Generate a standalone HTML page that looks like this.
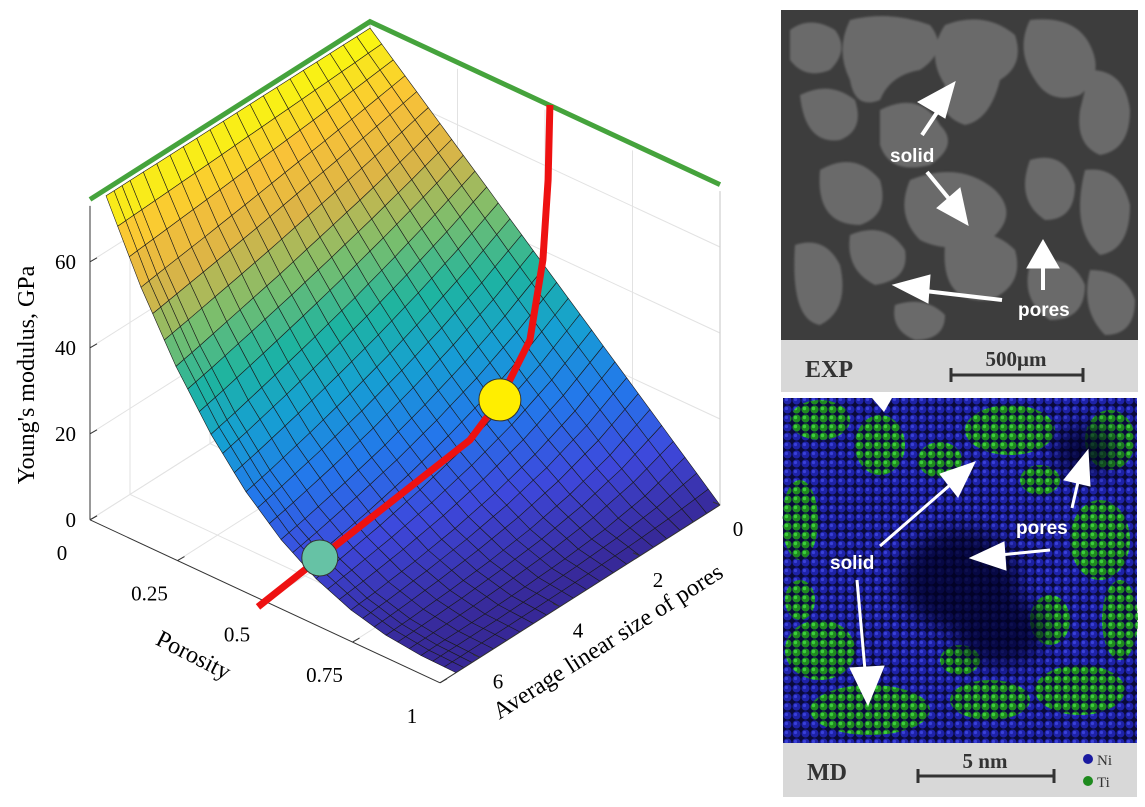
<!DOCTYPE html>
<html><head><meta charset="utf-8">
<style>
html,body{margin:0;padding:0;background:#fff;}
body{width:1145px;height:807px;overflow:hidden;position:relative;font-family:"Liberation Serif",serif;}
svg{position:absolute;left:0;top:0;}
</style></head>
<body>
<svg id="chart" width="760" height="807" viewBox="0 0 760 807" xmlns="http://www.w3.org/2000/svg">
  <g id="walls"></g>
  <g id="surf"></g>
  <g id="axes"></g>
  <g id="overlay"></g>
  <text x="0" y="0" transform="translate(34,375) rotate(-90)" text-anchor="middle" font-size="24" font-family="Liberation Serif, serif">Young's modulus, GPa</text>
  <text x="0" y="0" transform="translate(190,662) rotate(27)" text-anchor="middle" font-size="24" font-family="Liberation Serif, serif">Porosity</text>
  <text x="0" y="0" transform="translate(612,648) rotate(-32.5)" text-anchor="middle" font-size="24" font-family="Liberation Serif, serif">Average linear size of pores</text>
</svg>

<svg width="1145" height="807" viewBox="0 0 1145 807" xmlns="http://www.w3.org/2000/svg" style="pointer-events:none">
  <defs>
    <pattern id="ni" width="9" height="9" patternUnits="userSpaceOnUse">
      <rect width="9" height="9" fill="#0a0a3a"/>
      <circle cx="4.5" cy="4.5" r="4" fill="#1e22a8"/>
      <circle cx="3.5" cy="3.5" r="1.6" fill="#3a40d8"/>
    </pattern>
    <pattern id="ti" width="9" height="9" patternUnits="userSpaceOnUse">
      <circle cx="4.5" cy="4.5" r="4" fill="#1f8a1f"/>
      <circle cx="3.5" cy="3.5" r="1.7" fill="#3ccf3c"/>
    </pattern>
    <filter id="blur1"><feGaussianBlur stdDeviation="1"/></filter>
    <filter id="blur8"><feGaussianBlur stdDeviation="10"/></filter>
  </defs>
  <g>
    <rect x="781" y="10" width="357" height="330" fill="#3d3d3d"/>
    <g fill="#6a6a6a" filter="url(#blur1)">
      <path d="M790,30 q20,-15 45,0 q15,20 -5,40 q-25,10 -40,-10z"/>
      <path d="M850,20 q40,-10 80,5 q20,25 -10,45 q-30,5 -40,30 q-25,10 -30,-20 q-15,-30 0,-60z"/>
      <path d="M945,25 q40,-15 70,10 q10,30 -15,45 q-10,40 -35,45 q-30,-10 -20,-40 q-20,-30 0,-60z"/>
      <path d="M1030,20 q45,-5 60,25 q15,30 -10,50 q-30,10 -45,-15 q-20,-30 -5,-60z"/>
      <path d="M1090,70 q35,0 40,40 q0,40 -30,45 q-25,-10 -20,-45z"/>
      <path d="M800,95 q30,-15 55,5 q10,30 -15,40 q-35,5 -40,-45z"/>
      <path d="M880,110 q40,-20 60,15 q20,20 -10,40 q-40,10 -50,-20z"/>
      <path d="M820,170 q35,-20 60,10 q10,35 -20,45 q-45,0 -40,-55z"/>
      <path d="M910,180 q50,-20 85,10 q25,25 -5,50 q-40,15 -70,0 q-25,-25 -10,-60z"/>
      <path d="M1030,160 q35,-10 45,25 q0,35 -30,35 q-30,-20 -15,-60z"/>
      <path d="M1085,170 q35,-5 45,35 q0,45 -30,50 q-30,-25 -15,-85z"/>
      <path d="M795,245 q30,-10 45,20 q10,45 -20,60 q-30,-5 -25,-80z"/>
      <path d="M850,235 q35,-15 55,15 q5,30 -30,35 q-30,-15 -25,-50z"/>
      <path d="M945,245 q40,-25 70,5 q10,35 -25,50 q-50,5 -45,-55z"/>
      <path d="M1030,265 q40,-15 55,20 q0,35 -35,35 q-30,-20 -20,-55z"/>
      <path d="M1090,270 q35,0 45,30 q0,35 -30,35 q-25,-25 -15,-65z"/>
      <path d="M895,305 q30,-10 50,10 q0,25 -30,25 q-25,-10 -20,-35z"/>
    </g>
    <g fill="#fff" stroke="#fff">
      <line x1="922" y1="135" x2="940" y2="108" stroke-width="4"/><polygon points="955,82 918,102 945,118"/>
      <line x1="927" y1="172" x2="950" y2="200" stroke-width="4"/><polygon points="968,225 937,208 960,188"/>
      <line x1="1002" y1="300" x2="925" y2="291" stroke-width="4"/><polygon points="893,285 930,275 928,303"/>
      <line x1="1043" y1="290" x2="1043" y2="265" stroke-width="4"/><polygon points="1043,240 1027,268 1059,268"/>
    </g>
    <text x="890" y="162" fill="#fff" font-family="Liberation Sans, sans-serif" font-weight="bold" font-size="19">solid</text>
    <text x="1018" y="316" fill="#fff" font-family="Liberation Sans, sans-serif" font-weight="bold" font-size="19">pores</text>
    <rect x="781" y="340" width="357" height="52" fill="#d8d8d8"/>
    <text x="805" y="377" font-weight="bold" font-size="24" fill="#333">EXP</text>
    <text x="1016" y="366" text-anchor="middle" font-weight="bold" font-size="21" fill="#333">500μm</text>
    <g stroke="#333" stroke-width="3"><line x1="951" y1="375" x2="1083" y2="375"/><line x1="951" y1="368" x2="951" y2="382"/><line x1="1083" y1="368" x2="1083" y2="382"/></g>
  </g>
  <g>
    <rect x="783" y="398" width="354" height="345" fill="url(#ni)"/>
    <g fill="url(#ti)">
      <ellipse cx="820" cy="420" rx="30" ry="20"/><ellipse cx="880" cy="445" rx="25" ry="30"/>
      <ellipse cx="1010" cy="430" rx="45" ry="25"/><ellipse cx="1110" cy="440" rx="25" ry="30"/>
      <ellipse cx="800" cy="520" rx="18" ry="40"/><ellipse cx="1100" cy="540" rx="30" ry="40"/>
      <ellipse cx="1120" cy="620" rx="18" ry="40"/><ellipse cx="820" cy="650" rx="35" ry="30"/>
      <ellipse cx="870" cy="710" rx="60" ry="25"/><ellipse cx="990" cy="700" rx="40" ry="20"/>
      <ellipse cx="1080" cy="690" rx="45" ry="25"/><ellipse cx="940" cy="460" rx="22" ry="18"/>
      <ellipse cx="1050" cy="620" rx="20" ry="25"/><ellipse cx="800" cy="600" rx="15" ry="20"/>
      <ellipse cx="1040" cy="480" rx="20" ry="15"/><ellipse cx="960" cy="660" rx="20" ry="15"/>
    </g>
    <g fill="#050520" opacity="0.75" filter="url(#blur8)">
      <ellipse cx="960" cy="580" rx="60" ry="50"/><ellipse cx="1000" cy="630" rx="45" ry="35"/>
      <ellipse cx="1085" cy="450" rx="30" ry="25"/>
    </g>
    <polygon points="872,398 892,398 884,412" fill="#fff"/>
    <g fill="#fff" stroke="#fff">
      <line x1="880" y1="546" x2="950" y2="485" stroke-width="3"/><polygon points="975,462 940,474 958,497"/>
      <line x1="857" y1="580" x2="865" y2="670" stroke-width="3"/><polygon points="868,705 850,668 884,666"/>
      <line x1="1072" y1="508" x2="1078" y2="482" stroke-width="3"/><polygon points="1088,450 1064,480 1090,486"/>
      <line x1="1050" y1="550" x2="1000" y2="555" stroke-width="3"/><polygon points="970,558 1004,542 1006,570"/>
    </g>
    <text x="830" y="569" fill="#fff" font-family="Liberation Sans, sans-serif" font-weight="bold" font-size="19">solid</text>
    <text x="1016" y="534" fill="#fff" font-family="Liberation Sans, sans-serif" font-weight="bold" font-size="19">pores</text>
    <rect x="783" y="743" width="354" height="54" fill="#d8d8d8"/>
    <text x="807" y="780" font-weight="bold" font-size="24" fill="#333">MD</text>
    <text x="985" y="768" text-anchor="middle" font-weight="bold" font-size="21" fill="#333">5 nm</text>
    <g stroke="#333" stroke-width="3"><line x1="918" y1="776" x2="1054" y2="776"/><line x1="918" y1="769" x2="918" y2="783"/><line x1="1054" y1="769" x2="1054" y2="783"/></g>
    <circle cx="1088" cy="759" r="5" fill="#1a1aa0"/>
    <text x="1097" y="765" font-size="15" fill="#333">Ni</text>
    <circle cx="1088" cy="781" r="5" fill="#1e8a1e"/>
    <text x="1097" y="787" font-size="15" fill="#333">Ti</text>
  </g>
</svg>

<script>
// ---- data ----
const porosity = [0,0.1,0.2,0.3,0.4,0.5,0.6,0.7,0.8,0.9,1];
const poreSize = [0,1,2,3,4,5,6,6.6];
// Young's modulus (GPa) rows = porosity, cols = pore size
const modulus = [
 [73,73,73,73,73,73,73,73],
 [65.7,64.0,62.4,60.9,59.3,57.8,56.4,55.5],
 [58.4,55.3,52.4,49.7,47.0,44.6,42.2,40.9],
 [51.1,46.9,43.0,39.4,36.2,33.2,30.4,28.9],
 [43.8,38.7,34.2,30.2,26.7,23.6,20.8,19.3],
 [36.5,30.9,26.1,22.1,18.6,15.8,13.3,12.0],
 [29.2,23.4,18.7,15.0,12.0,9.6,7.7,6.7],
 [21.9,16.4,12.2,9.1,6.8,5.1,3.8,3.2],
 [14.6,9.9,6.7,4.5,3.1,2.1,1.4,1.1],
 [7.3,4.2,2.4,1.4,0.8,0.4,0.3,0.2],
 [0,0,0,0,0,0,0,0]
];
const pathP = [0.503,0.612,0.614,0.620,0.610,0.571,0.494,0.509,0.514];
const pathS = [7.2,6.61,4.62,2.93,2.09,1.0,0,0,0];
const pathZ = [0,12,15,18,22,28,37.8,57,74.6];
const markerIdx = [1,4];
const markerColors = ['#66c2a5','#ffee00'];
const zTicks = [0,20,40,60];
const pTicks = [0,0.25,0.5,0.75,1];
const pTickLabels = ['0','0.25','0.5','0.75','1'];
const sTicks = [0,2,4,6];
const zMax = 73, sMax = 7;

// ---- projection ----
function PX(p,s,z){return 370+350*p-40*s;}
function PY(p,s,z){return 342+163*p+25.4*s-4.3*z;}
const NS='http://www.w3.org/2000/svg';
function mk(tag,attrs,parent){const e=document.createElementNS(NS,tag);for(const k in attrs)e.setAttribute(k,attrs[k]);parent.appendChild(e);return e;}
const parula=[[0,[55,40,150]],[0.12,[62,72,220]],[0.25,[35,120,235]],[0.38,[22,160,210]],[0.5,[30,180,160]],[0.62,[120,190,110]],[0.75,[220,180,70]],[0.87,[250,195,55]],[1,[249,251,14]]];
function cmap(t){t=Math.max(0,Math.min(1,t));for(let i=1;i<parula.length;i++){if(t<=parula[i][0]){const a=parula[i-1],b=parula[i];const f=(t-a[0])/(b[0]-a[0]);return 'rgb('+a[1].map((v,j)=>Math.round(v+(b[1][j]-v)*f)).join(',')+')';}}return 'rgb(249,251,14)';}

const walls=document.getElementById('walls');
for(const z of zTicks){
  let l=mk('line',{x1:PX(0,sMax,z),y1:PY(0,sMax,z),x2:PX(0,0,z),y2:PY(0,0,z),stroke:'#e2e2e2','stroke-width':1},walls);
  
  
  l=mk('line',{x1:PX(0,0,z),y1:PY(0,0,z),x2:PX(1,0,z),y2:PY(1,0,z),stroke:'#e2e2e2','stroke-width':1},walls);
  
  
}
for(const p of pTicks){
  const l=mk('line',{x1:PX(p,0,0),y1:PY(p,0,0),x2:PX(p,0,zMax),y2:PY(p,0,zMax),stroke:'#e2e2e2','stroke-width':1},walls);
  
  
  const f=mk('line',{x1:PX(p,0,0),y1:PY(p,0,0),x2:PX(p,sMax,0),y2:PY(p,sMax,0),stroke:'#e2e2e2','stroke-width':1},walls);
  
  
}
for(const s of sTicks){
  const l=mk('line',{x1:PX(0,s,0),y1:PY(0,s,0),x2:PX(0,s,zMax),y2:PY(0,s,zMax),stroke:'#e2e2e2','stroke-width':1},walls);
  
  
  const f=mk('line',{x1:PX(0,s,0),y1:PY(0,s,0),x2:PX(1,s,0),y2:PY(1,s,0),stroke:'#e2e2e2','stroke-width':1},walls);
  
  
}
let bl=mk('line',{x1:PX(0,0,0),y1:PY(0,0,0),x2:PX(0,0,zMax+2),y2:PY(0,0,zMax+2),stroke:'#cfcfcf','stroke-width':1.2},walls);


bl=mk('line',{x1:PX(1,0,0),y1:PY(1,0,0),x2:PX(1,0,zMax),y2:PY(1,0,zMax),stroke:'#cfcfcf','stroke-width':1.2},walls);



// surface: each data cell rendered as SUB x SUB facets (bilinear within the cell)
const surf=document.getElementById('surf');
const SUB=3;
const facets=[];
for(let i=0;i<porosity.length-1;i++)for(let j=0;j<poreSize.length-1;j++)for(let a=0;a<SUB;a++)for(let b=0;b<SUB;b++)facets.push([i,j,a,b]);
const nP=porosity.length-1,nS=poreSize.length-1;
facets.sort((A,B)=>((A[0]+A[2]/SUB)/nP+(A[1]+A[3]/SUB)/nS)-((B[0]+B[2]/SUB)/nP+(B[1]+B[3]/SUB)/nS));
function val(i,j,u,v){
  const p=porosity[i]+(porosity[i+1]-porosity[i])*u;
  const s=poreSize[j]+(poreSize[j+1]-poreSize[j])*v;
  const z=modulus[i][j]*(1-u)*(1-v)+modulus[i+1][j]*u*(1-v)+modulus[i+1][j+1]*u*v+modulus[i][j+1]*(1-u)*v;
  return [p,s,z];
}
for(const [i,j,a,b] of facets){
  const corners=[[a,b],[a+1,b],[a+1,b+1],[a,b+1]].map(([u,v])=>val(i,j,u/SUB,v/SUB));
  const pts=corners.map(([p,s,z])=>PX(p,s,z).toFixed(1)+','+PY(p,s,z).toFixed(1)).join(' ');
  const zavg=corners.reduce((t,c)=>t+c[2],0)/4;
  const poly=mk('polygon',{points:pts,fill:cmap(zavg/zMax),stroke:'#1a1a1a','stroke-width':0.6,'stroke-linejoin':'round'},surf);
  
  
}

// axes
const axes=document.getElementById('axes');
let a=mk('line',{x1:PX(0,sMax,0),y1:PY(0,sMax,0),x2:PX(0,sMax,zMax),y2:PY(0,sMax,zMax),stroke:'#333','stroke-width':1},axes);


a=mk('line',{x1:PX(0,sMax,0),y1:PY(0,sMax,0),x2:PX(1,sMax,0),y2:PY(1,sMax,0),stroke:'#333','stroke-width':1},axes);


a=mk('line',{x1:PX(1,sMax,0),y1:PY(1,sMax,0),x2:PX(1,0,0),y2:PY(1,0,0),stroke:'#333','stroke-width':1},axes);


for(const z of zTicks){
  const x=PX(0,sMax,z),y=PY(0,sMax,z);
  const t=mk('line',{x1:x,y1:y,x2:x+7,y2:y-4,stroke:'#333'},axes);
  
  
  const tx=mk('text',{x:x-14,y:y+7,'text-anchor':'end','font-size':21},axes);
  
  
  tx.textContent=z;
}
pTicks.forEach((p,k)=>{
  const x=PX(p,sMax,0),y=PY(p,sMax,0);
  const t=mk('line',{x1:x,y1:y,x2:x+7,y2:y-4,stroke:'#333'},axes);
  
  
  const tx=mk('text',{x:x-28,y:y+40,'text-anchor':'middle','font-size':21},axes);
  
  
  tx.textContent=pTickLabels[k];
});
for(const s of sTicks){
  const x=PX(1,s,0),y=PY(1,s,0);
  const t=mk('line',{x1:x,y1:y,x2:x-7,y2:y-3,stroke:'#333'},axes);
  
  
  const tx=mk('text',{x:x+18,y:y+31,'text-anchor':'middle','font-size':21},axes);
  
  
  tx.textContent=s;
}

// overlay
const ov=document.getElementById('overlay');
const g=mk('polyline',{points:[[0,sMax],[0,0],[1,0]].map(([p,s])=>PX(p,s,zMax+1.5)+','+PY(p,s,zMax+1.5)).join(' '),fill:'none',stroke:'#45a33c','stroke-width':5,'stroke-linejoin':'miter'},ov);


const rp=pathP.map((p,k)=>PX(p,pathS[k],pathZ[k]).toFixed(1)+','+PY(p,pathS[k],pathZ[k]).toFixed(1)).join(' ');
const red=mk('polyline',{points:rp,fill:'none',stroke:'#ee1111','stroke-width':7,'stroke-linejoin':'round'},ov);


markerIdx.forEach((k,m)=>{
  const c=mk('circle',{cx:PX(pathP[k],pathS[k],pathZ[k]),cy:PY(pathP[k],pathS[k],pathZ[k]),r:m?21:18,fill:markerColors[m],stroke:'#333','stroke-width':1},ov);
  
  
});
</script>
</body></html>
